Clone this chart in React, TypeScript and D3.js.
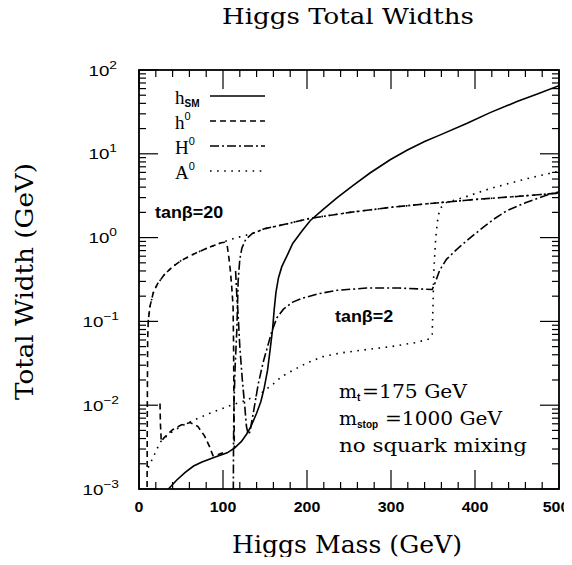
import React from 'react';
import * as d3 from 'd3';

type Pt = [number, number];

// axis setup
const massDomain: [number, number] = [0, 500];
const widthDomain: [number, number] = [1e-3, 1e2];
const xTickValues = [0, 100, 200, 300, 400, 500];
const yTickExponents = [-3, -2, -1, 0, 1, 2];

// Standard model Higgs
const hSM: Pt[] = [
  [35, 0.001], [45, 0.00128], [55, 0.00158], [65, 0.00188], [75, 0.0021], [90, 0.0024],
  [105, 0.0027], [114, 0.0031], [122, 0.0037], [128, 0.0045], [133, 0.0055], [140, 0.008],
  [145, 0.011], [149, 0.016], [153, 0.026], [156, 0.045], [159, 0.08], [161, 0.14],
  [163, 0.22], [166, 0.33], [170, 0.45], [176, 0.6], [183, 0.85], [194, 1.2], [204, 1.6],
  [220, 2.2], [236, 3.0], [255, 4.2], [275, 5.9], [299, 8.5], [319, 11], [340, 14],
  [358, 16.7], [390, 23], [418, 31], [450, 42], [475, 52], [500, 65],
];

// tan(beta) = 20
const hLight20: Pt[] = [
  [9.6, 0.0008], [9.9, 0.01], [10.3, 0.06], [11, 0.1], [13, 0.15], [17, 0.22], [22, 0.28],
  [30, 0.36], [40, 0.45], [50, 0.53], [60, 0.6], [70, 0.67], [80, 0.74], [90, 0.81],
  [98, 0.87], [102, 0.88], [105, 0.8], [106.8, 0.6], [108.8, 0.4], [110.5, 0.25],
  [112, 0.15], [112.6, 0.05], [113, 0.012], [113.5, 0.0031],
];
const hHeavy20: Pt[] = [
  [112.2, 0.0006], [112.5, 0.003], [113, 0.01], [114.5, 0.03], [116.5, 0.08], [118, 0.3],
  [120, 0.55], [122.5, 0.75], [127, 0.95], [135, 1.12], [150, 1.28], [175, 1.45],
  [204, 1.7], [251, 2.0], [300, 2.3], [346, 2.55], [400, 2.85], [450, 3.1], [500, 3.4],
];
const hA20: Pt[] = [
  [11, 0.1], [13, 0.15], [17, 0.22], [22, 0.28], [30, 0.36], [40, 0.45], [50, 0.53],
  [60, 0.6], [70, 0.67], [80, 0.74], [90, 0.81], [98, 0.87], [105, 0.92], [112, 0.97],
  [120, 1.02], [135, 1.12], [150, 1.28], [175, 1.45], [204, 1.7], [251, 2.0], [300, 2.3],
  [346, 2.55], [400, 2.85], [450, 3.1], [500, 3.4],
];

// tan(beta) = 2
const hLight2: Pt[] = [
  [25, 0.0105], [25.5, 0.006], [26.5, 0.0037], [30, 0.0041], [40, 0.0051], [50, 0.0058],
  [61, 0.0062], [70, 0.0056], [78, 0.0043], [84, 0.0032], [88, 0.0025], [95, 0.0026],
  [100, 0.0027],
];
const hHeavy2: Pt[] = [
  [115, 0.4], [116.5, 0.2], [118, 0.12], [120, 0.05], [123, 0.02], [126, 0.0095],
  [128, 0.0055], [130, 0.0045], [132, 0.0048], [136, 0.008], [142, 0.018], [148, 0.033],
  [152, 0.046], [158, 0.075], [164, 0.11], [172, 0.14], [183, 0.17], [195, 0.19],
  [215, 0.215], [236, 0.235], [271, 0.25], [310, 0.25], [349, 0.24], [352, 0.28],
  [358, 0.41], [366, 0.55], [378, 0.72], [392, 0.95], [406, 1.24], [422, 1.65],
  [438, 2.1], [460, 2.6], [489, 3.3], [500, 3.5],
];
const hA2: Pt[] = [
  [11, 0.0018], [17, 0.0024], [25, 0.0036], [35, 0.0045], [50, 0.0056], [65, 0.0066],
  [80, 0.0077], [95, 0.0088], [112, 0.0102], [125, 0.0112], [140, 0.013], [148, 0.0145],
  [160, 0.018], [170, 0.022], [183, 0.026], [200, 0.032], [219, 0.038], [240, 0.042],
  [270, 0.046], [300, 0.05], [330, 0.056], [346, 0.062], [349, 0.07], [350, 0.15],
  [351, 0.4], [353, 0.9], [355, 1.5], [358, 2.2], [365, 2.6], [386, 3.0], [420, 3.9],
  [460, 5.0], [500, 6.2],
];

const dashSolid = 'none';
const dashDashed = '6,4';
const dashDashDot = '9,3,2,3';
const dashDotted = '1.6,5.5';

const legendNames = ['h', 'h', 'H', 'A'];
const legendSubs = ['SM', '', '', ''];
const legendSups = ['', '0', '0', '0'];
const legendDashes = [dashSolid, dashDashed, dashDashDot, dashDotted];

const W = 572;
const H = 565;
const left = 139;
const right = 559;
const top = 70;
const bottom = 489;

export default function App() {
  const x = d3.scaleLinear().domain(massDomain).range([left, right]);
  const y = d3.scaleLog().domain(widthDomain).range([bottom, top]);
  const line = d3.line<Pt>().x(d => x(d[0])).y(d => y(d[1]));

  const curves: { pts: Pt[]; dash: string }[] = [
    { pts: hA20, dash: dashDotted },
    { pts: hA2, dash: dashDotted },
    { pts: hLight20, dash: dashDashed },
    { pts: hLight2, dash: dashDashed },
    { pts: hHeavy20, dash: dashDashDot },
    { pts: hHeavy2, dash: dashDashDot },
    { pts: hSM, dash: dashSolid },
  ];

  const xMinor = d3.range(0, 501, 20).filter(v => v % 100 !== 0);
  const yMinor: number[] = [];
  for (let k = -3; k < 2; k++) for (let i = 2; i <= 9; i++) yMinor.push(i * Math.pow(10, k));

  const slab = '"DejaVu Serif", "Liberation Serif", serif';
  const sans = '"Liberation Sans", Arial, sans-serif';
  const serif = '"Liberation Serif", "DejaVu Serif", serif';

  return (
    <svg width={W} height={H} style={{ display: 'block', margin: '-8px', background: '#fff' }}>
      <defs>
        <clipPath id="plot">
          <rect x={left} y={top} width={right - left} height={bottom - top} />
        </clipPath>
      </defs>

      {/* title */}
      <text x={222} y={24} textLength={252} lengthAdjust="spacingAndGlyphs" fontFamily={slab}
        fontSize={23}>Higgs Total Widths</text>

      {/* curves */}
      <g clipPath="url(#plot)" fill="none" stroke="#000" strokeWidth={1.6}>
        {curves.map((c, i) => (
          <path key={i} d={line(c.pts) || ''} strokeDasharray={c.dash === 'none' ? undefined : c.dash} />
        ))}
      </g>

      {/* ticks */}
      <g stroke="#000" strokeWidth={1.2}>
        {xMinor.map(v => (
          <g key={'xm' + v}>
            <line x1={x(v)} x2={x(v)} y1={bottom} y2={bottom - 7} />
            <line x1={x(v)} x2={x(v)} y1={top} y2={top + 7} />
          </g>
        ))}
        {xTickValues.map(v => (
          <g key={'xM' + v}>
            <line x1={x(v)} x2={x(v)} y1={bottom} y2={bottom - 19} />
            <line x1={x(v)} x2={x(v)} y1={top} y2={top + 19} />
          </g>
        ))}
        {yMinor.map(v => (
          <g key={'ym' + v}>
            <line x1={left} x2={left + 7} y1={y(v)} y2={y(v)} />
            <line x1={right} x2={right - 7} y1={y(v)} y2={y(v)} />
          </g>
        ))}
        {yTickExponents.map(e => (
          <g key={'yM' + e}>
            <line x1={left} x2={left + 19} y1={y(Math.pow(10, e))} y2={y(Math.pow(10, e))} />
            <line x1={right} x2={right - 19} y1={y(Math.pow(10, e))} y2={y(Math.pow(10, e))} />
          </g>
        ))}
      </g>

      {/* frame */}
      <rect x={left} y={top} width={right - left} height={bottom - top} fill="none" stroke="#000" strokeWidth={1.8} />

      {/* x tick labels */}
      {xTickValues.map(v => (
        <text key={'xl' + v} transform={`translate(${v === 500 ? x(v) - 3 : x(v)},512) scale(1.1,1)`} textAnchor="middle"
          fontFamily={sans} fontWeight="bold" fontSize={14.5}>{v}</text>
      ))}

      {/* y tick labels */}
      {yTickExponents.map(e => (
        <text key={'yl' + e} transform={`translate(${e < 0 ? 119 : 117},${y(Math.pow(10, e)) + 5.5}) scale(1.25,1)`}
          textAnchor="end" fontFamily={sans} fontSize={15}>
          10<tspan fontSize={11} dy={-7}>{e < 0 ? '\u2212' + Math.abs(e) : e}</tspan>
        </text>
      ))}

      {/* axis titles */}
      <text x={232} y={553} textLength={230} lengthAdjust="spacingAndGlyphs" fontFamily={slab}
        fontSize={24}>Higgs Mass (GeV)</text>
      <text transform={`translate(33,282) rotate(-90)`} x={-118} y={0} textLength={237}
        lengthAdjust="spacingAndGlyphs" fontFamily={slab} fontSize={24}>Total Width (GeV)</text>

      {/* legend */}
      {legendNames.map((n, i) => {
        const ly = 96 + i * 25;
        return (
          <g key={'lg' + i}>
            <line x1={210} x2={265} y1={ly} y2={ly} stroke="#000" strokeWidth={1.6}
              strokeDasharray={legendDashes[i] === 'none' ? undefined : legendDashes[i]} />
            <text x={175} y={ly + 8} fontFamily={serif} fontSize={19}>
              {n}
              {legendSubs[i] && <tspan fontFamily={sans} fontWeight="bold" fontSize={10} dy={3}>{legendSubs[i]}</tspan>}
              {legendSups[i] && <tspan fontFamily={sans} fontSize={11} dy={-9}>{legendSups[i]}</tspan>}
            </text>
          </g>
        );
      })}

      {/* annotations */}
      <text transform="translate(155,218) scale(1.12,1)" fontFamily={sans} fontWeight="bold" fontSize={16}>tan&#946;=20</text>
      <text transform="translate(335,322) scale(1.12,1)" fontFamily={sans} fontWeight="bold" fontSize={16}>tan&#946;=2</text>

      <g fontFamily={slab} fontSize={19}>
        <text x={339} y={398}>m<tspan fontFamily={sans} fontWeight="bold" fontSize={10} dy={3}>t</tspan></text>
        <text x={362} y={398} textLength={105} lengthAdjust="spacingAndGlyphs">=175 GeV</text>
        <text x={339} y={425}>m<tspan fontFamily={sans} fontWeight="bold" fontSize={10} dy={3}>stop</tspan></text>
        <text x={385} y={425} textLength={117} lengthAdjust="spacingAndGlyphs">=1000 GeV</text>
        <text x={339} y={452} textLength={188} lengthAdjust="spacingAndGlyphs">no squark mixing</text>
      </g>
    </svg>
  );
}
